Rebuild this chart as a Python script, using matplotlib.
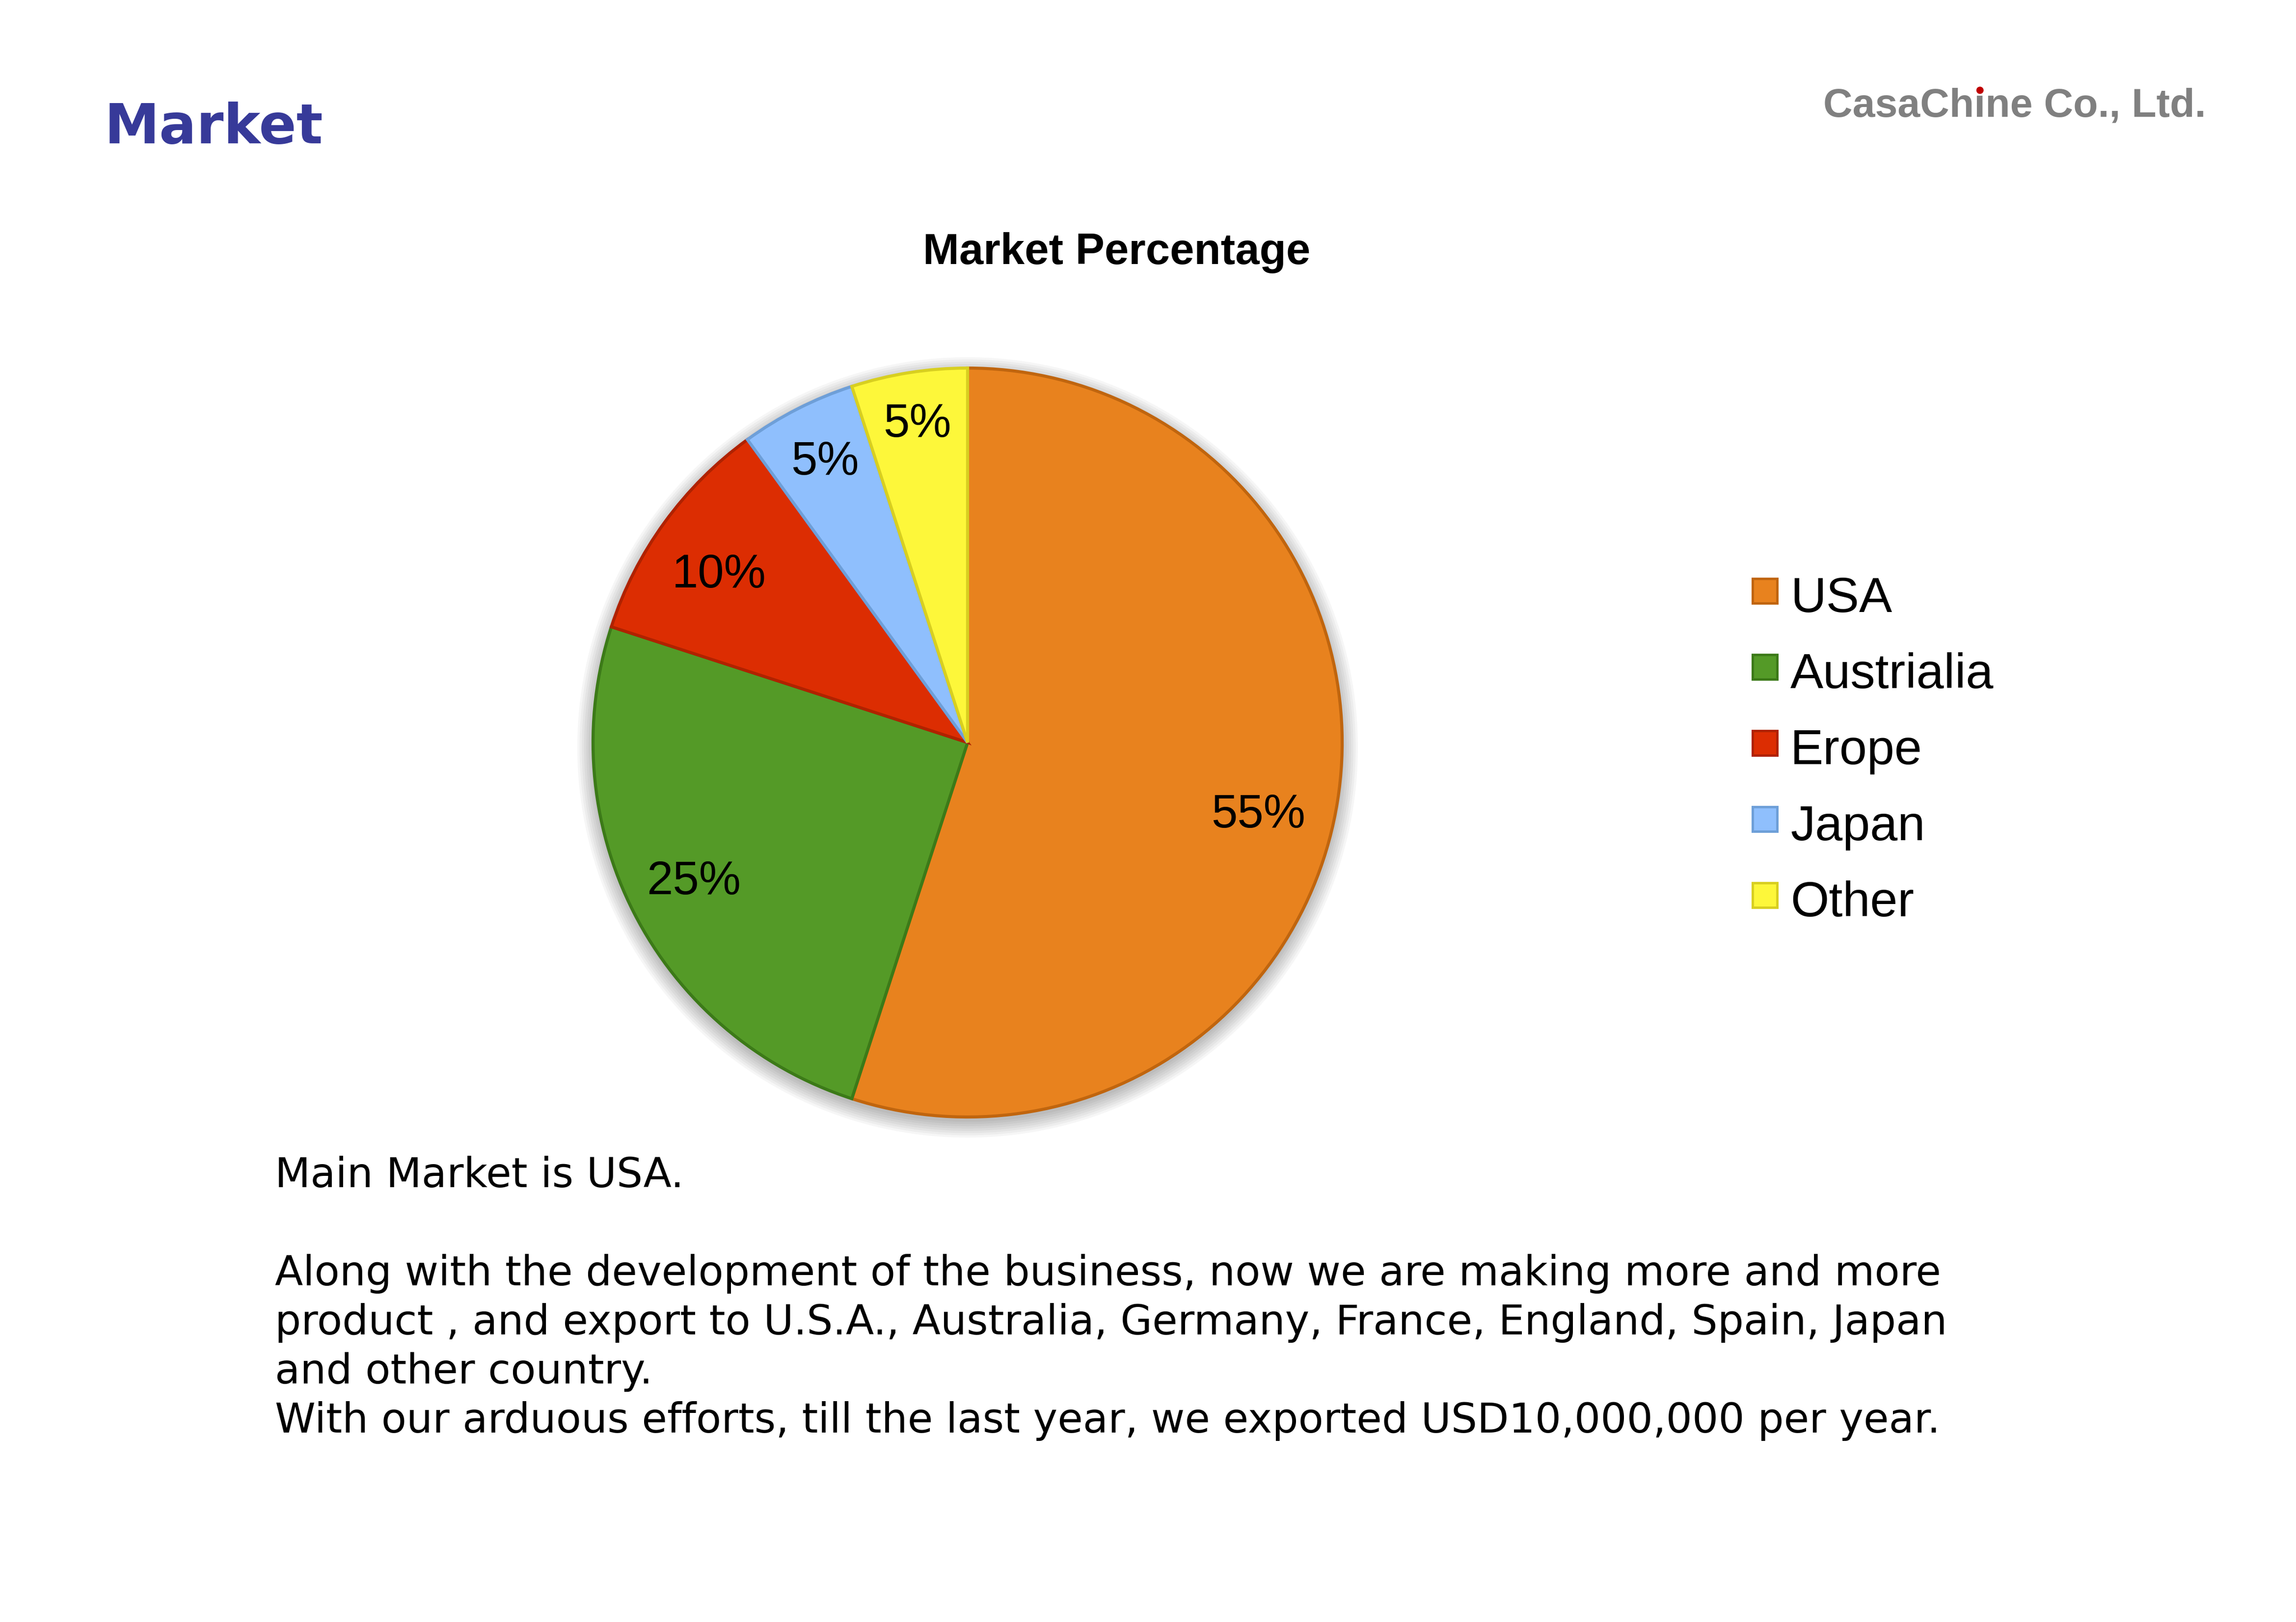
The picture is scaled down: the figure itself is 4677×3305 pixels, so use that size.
import numpy as np
import matplotlib.pyplot as plt
from matplotlib.patches import Circle, Rectangle

# data
markets = ["USA", "Austrialia", "Erope", "Japan", "Other"]
shares = [55, 25, 10, 5, 5]
colors = ["#E8821E", "#549A27", "#DC2D02", "#8FBFFD", "#FDF73A"]
edges = ["#C0650E", "#3C7A18", "#B02200", "#6E9FD8", "#D8CF20"]
# how far out each percentage sits (fraction of radius), and a turn for the big slice
label_dist = [0.80, 0.82, 0.80, 0.84, 0.86]
label_turn = [-5, 0, 2, 0, 0]

page_title = "Market"
company = "CasaChine Co., Ltd."
chart_title = "Market Percentage"
body_lines = [
    "Main Market is USA.",
    "",
    "Along with the development of the business, now we are making more and more",
    "product , and export to U.S.A., Australia, Germany, France, England, Spain, Japan",
    "and other country.",
    "With our arduous efforts, till the last year, we exported USD10,000,000 per year.",
]

W, H = 4677, 3305
DPI = 300


def main():
    fig = plt.figure(figsize=(W / DPI, H / DPI), dpi=DPI)
    fig.patch.set_facecolor("white")

    # pie axes: centre and radius in pixels
    cx, cy, r = 1971, H - 1513, 763
    pad = 1.1
    ax = fig.add_axes([(cx - r * pad) / W, (cy - r * pad) / H,
                       2 * r * pad / W, 2 * r * pad / H])

    # soft shadow under the pie
    for i in range(8):
        ax.add_patch(Circle((0, -0.013), 1.0 + 0.006 * i, color="#000000",
                            alpha=0.035, lw=0, zorder=0))

    wedges, texts, autotexts = ax.pie(
        shares, colors=colors, startangle=90, counterclock=False,
        autopct="%1.0f%%", pctdistance=0.81,
        wedgeprops=dict(linewidth=1.5),
        textprops=dict(fontsize=23, family="Liberation Sans", color="black"))
    for w, ec in zip(wedges, edges):
        w.set_edgecolor(ec)
        w.set_zorder(2)
    for w, t, d, turn in zip(wedges, autotexts, label_dist, label_turn):
        ang = np.deg2rad((w.theta1 + w.theta2) / 2 + turn)
        t.set_position((d * np.cos(ang), d * np.sin(ang)))
        t.set_zorder(3)
    ax.set_xlim(-pad, pad)
    ax.set_ylim(-pad, pad)
    ax.set_aspect("equal")
    ax.axis("off")

    # legend drawn by hand
    for i, (name, col, ec) in enumerate(zip(markets, colors, edges)):
        base = H - (1247 + i * 155)
        fig.patches.append(Rectangle((3570 / W, (base + 18) / H), 50 / W, 50 / H,
                                     transform=fig.transFigure, facecolor=col,
                                     edgecolor=ec, linewidth=1.2))
        fig.text(3647 / W, base / H, name, fontsize=24.2, family="Liberation Sans",
                 va="baseline", ha="left")

    fig.text(2275 / W, (H - 538) / H, chart_title, fontsize=21.3, fontweight="bold",
             family="Liberation Sans", ha="center", va="baseline")

    fig.text(213 / W, (H - 292) / H, page_title, fontsize=27, fontweight="bold",
             family="DejaVu Sans", color="#373A99", ha="left", va="baseline")

    csize = 19.8
    ct = fig.text(4494 / W, (H - 238) / H, company, fontsize=csize, fontweight="bold",
                  family="Liberation Sans", color="#808080", ha="right", va="baseline")

    for k, line in enumerate(body_lines):
        if line:
            fig.text(560 / W, (H - (2419 + k * 100)) / H, line, fontsize=20.1,
                     family="DejaVu Sans", ha="left", va="baseline")

    # red dot over the "i" of the company name
    fig.canvas.draw()
    rend = fig.canvas.get_renderer()
    bb = ct.get_window_extent(rend)
    prop = ct.get_fontproperties()
    w_pre, _, _ = rend.get_text_width_height_descent("CasaCh", prop, ismath=False)
    w_i, _, _ = rend.get_text_width_height_descent("i", prop, ismath=False)
    em = csize * DPI / 72
    dx = bb.x0 + w_pre + w_i / 2
    dy = (H - 238) + 0.655 * em
    dot = Circle((dx, dy), 0.09 * em, transform=None, facecolor="#C00000",
                 edgecolor="none", zorder=10)
    fig.patches.append(dot)

    fig.savefig("out.png", dpi=DPI, facecolor="white")


if __name__ == "__main__":
    main()
